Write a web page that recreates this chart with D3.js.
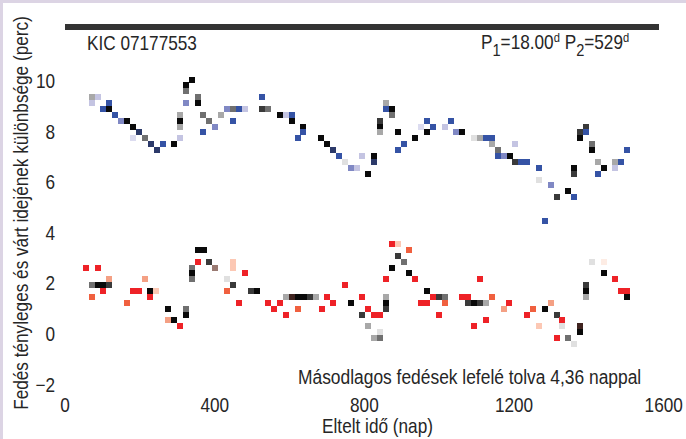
<!DOCTYPE html>
<html lang="hu">

<head>
    <meta charset="utf-8">
    <script src="https://d3js.org/d3.v7.min.js"></script>
    <style>
        body { margin: 0; background: #ffffff; }
        text { font-family: "Liberation Sans", Arial, sans-serif; fill: #262626; }
    </style>
</head>

<body>
    <div class="chart"></div>

    <script>
        // primary eclipses (upper band): time (days), O-C (minutes), tone group
        const primDay = [73, 89, 73, 119, 103, 119, 135, 151, 167, 183, 199, 183, 215, 231, 263, 247, 292, 308, 308, 308,
            308, 324, 324, 324, 340, 357, 357, 370, 386, 402, 370, 528, 434, 450, 466, 482, 418, 450, 528, 544,
            576, 592, 608, 608, 637, 637, 624, 685, 701, 717, 733, 750, 766, 782, 795, 811, 859, 859, 875, 875,
            843, 843, 843, 827, 827, 891, 907, 891, 937, 969, 985, 953, 969, 1033, 1017, 1046, 1062, 1094, 1110, 1126,
            1142, 1142, 1204, 1159, 1159, 1175, 1191, 1204, 1220, 1236, 1268, 1268, 1300, 1316, 1284, 1346, 1362, 1362, 1362, 1378,
            1394, 1394, 1378, 1410, 1410, 1426, 1442, 1426, 1471, 1487, 1471, 1503];
        const primEtv = [9.37, 9.37, 9.13, 9.13, 8.89, 8.89, 8.66, 8.42, 8.42, 8.18, 7.98, 7.75, 7.75, 7.51, 7.51, 7.27, 7.51, 7.75, 8.18, 8.42,
            8.66, 9.13, 9.60, 9.84, 10.04, 9.37, 9.13, 8.66, 8.42, 8.18, 7.98, 9.37, 8.89, 8.89, 8.89, 8.89, 8.66, 8.42, 8.89, 8.89,
            8.66, 8.66, 8.66, 8.42, 8.18, 7.98, 7.75, 7.75, 7.51, 7.27, 7.04, 6.80, 6.56, 6.56, 7.04, 6.32, 9.13, 8.89, 8.89, 8.66,
            8.42, 8.18, 7.98, 7.04, 6.80, 7.98, 7.51, 7.27, 7.75, 8.42, 8.18, 8.18, 7.98, 8.42, 8.18, 7.98, 7.98, 7.75, 7.75, 7.75,
            7.75, 7.51, 7.51, 7.27, 7.04, 7.04, 7.04, 6.80, 6.80, 6.80, 6.56, 6.09, 5.89, 5.42, 4.47, 5.65, 5.42, 6.56, 6.32, 7.98,
            8.18, 7.98, 7.75, 7.51, 7.27, 6.80, 6.56, 6.32, 6.80, 6.80, 6.56, 7.27];
        const primTone = ["l", "p", "p", "b", "b", "k", "b", "m", "k", "k", "n", "q", "g", "n", "b", "n", "k", "p", "l", "k",
            "l", "m", "g", "k", "k", "g", "k", "g", "g", "m", "b", "b", "m", "g", "b", "p", "l", "b", "d", "g",
            "k", "p", "b", "k", "k", "b", "b", "k", "k", "n", "b", "w", "m", "p", "p", "k", "l", "b", "k", "g",
            "d", "k", "l", "k", "n", "k", "b", "b", "k", "b", "b", "q", "k", "b", "p", "m", "k", "w", "l", "b",
            "b", "l", "p", "g", "b", "m", "k", "d", "b", "b", "b", "w", "m", "d", "b", "k", "b", "k", "d", "d",
            "d", "b", "k", "g", "k", "l", "k", "b", "l", "b", "p", "b"];

        // secondary eclipses (lower band, shifted down by 4.36 days)
        const secDay = [57, 89, 73, 89, 105, 119, 119, 73, 103, 167, 183, 199, 215, 228, 244, 228, 276, 276, 292, 308,
            324, 324, 340, 340, 340, 357, 373, 357, 386, 402, 450, 450, 434, 450, 434, 482, 498, 514, 466, 544,
            560, 576, 592, 592, 608, 624, 640, 656, 672, 624, 688, 701, 717, 750, 766, 795, 811, 795, 827, 843,
            811, 843, 827, 843, 859, 859, 859, 859, 875, 891, 920, 891, 907, 875, 920, 937, 969, 985, 1001, 1017,
            953, 969, 1017, 1001, 1062, 1078, 1078, 1094, 1110, 1126, 1110, 1142, 1094, 1126, 1188, 1175, 1252, 1236, 1268, 1284,
            1300, 1316, 1329, 1329, 1316, 1346, 1362, 1378, 1378, 1394, 1394, 1394, 1410, 1442, 1442, 1471, 1487, 1503, 1503];
        const secEtv = [2.61, 2.61, 1.94, 1.94, 1.94, 1.94, 2.17, 1.46, 1.70, 1.23, 1.70, 1.70, 2.17, 1.70, 1.70, 1.46, 0.99, 0.55, 0.55, 0.32,
            0.99, 0.75, 2.61, 2.41, 2.17, 3.32, 3.32, 2.85, 2.85, 2.61, 2.85, 2.61, 2.17, 1.94, 1.70, 2.41, 1.70, 1.70, 1.23, 1.23,
            0.99, 1.23, 0.75, 1.46, 1.46, 1.46, 1.46, 1.46, 1.46, 0.99, 0.99, 1.46, 1.23, 1.94, 1.23, 1.46, 0.99, 0.75, 0.75, 0.75,
            0.32, 0.08, -0.16, -0.16, 1.46, 1.23, 0.99, 2.17, 3.56, 3.56, 3.32, 3.08, 2.85, 2.61, 2.41, 2.17, 1.70, 1.46, 1.46, 1.46,
            1.23, 1.23, 1.23, 0.75, 1.46, 1.46, 1.23, 1.23, 1.23, 1.23, 2.17, 1.46, 0.32, 0.55, 1.23, 0.99, 0.99, 0.75, 0.32, 0.99,
            1.23, 0.75, 0.55, 0.32, -0.16, -0.16, -0.40, 0.32, 0.08, 1.94, 1.70, 1.46, 2.85, 2.85, 2.41, 2.17, 1.70, 1.70, 1.46];
        const secTone = ["r", "r", "g", "k", "k", "d", "s", "o", "r", "o", "r", "r", "s", "k", "e", "r", "k", "s", "k", "r",
            "g", "k", "g", "k", "g", "k", "k", "r", "d", "u", "e", "e", "w", "d", "o", "r", "d", "k", "r", "r",
            "r", "r", "r", "l", "t", "k", "k", "d", "l", "o", "r", "r", "r", "r", "k", "r", "r", "d", "r", "r",
            "l", "w", "l", "g", "l", "k", "d", "r", "r", "e", "o", "d", "g", "k", "k", "r", "k", "r", "d", "g",
            "r", "r", "o", "r", "r", "r", "d", "k", "d", "l", "r", "o", "r", "r", "r", "s", "o", "r", "e", "k",
            "s", "d", "r", "w", "r", "g", "w", "t", "k", "d", "k", "l", "w", "f", "k", "r", "r", "r", "k"];

        const xTicks = [0, 400, 800, 1200, 1600];
        const yTicks = [-2, 0, 2, 4, 6, 8, 10];

        const width = 686;
        const height = 439;

        const toneColor = d3.scaleOrdinal()
            .domain(["k", "d", "g", "l", "w", "b", "m", "p", "q", "n", "r", "o", "s", "e", "f", "t", "u"])
            .range(["#0a0a0a", "#3a3a3a", "#707070", "#a8a8a8", "#e0e0e0", "#3553a5", "#8088c4", "#c4c4e2",
                "#dcdcf0", "#2c3a6a", "#ee2227", "#f0603f", "#f4a084", "#fcc8b4", "#fdece4", "#402420", "#9a7a72"]);

        const svg = d3.select(".chart").append("svg")
            .attr("width", width)
            .attr("height", height);

        // light frame at top and left, white sheet
        svg.append("rect").attr("width", width).attr("height", height).attr("fill", "#dcd4e4");
        svg.append("rect").attr("x", 3).attr("y", 3).attr("width", width - 3).attr("height", height - 3)
            .attr("fill", "#ffffff");

        // scales
        const x = d3.scaleLinear().domain([0, 1600]).range([64.6, 663.2]);
        const y = d3.scaleLinear().domain([0, 10]).range([334, 81]);

        // thick bar at the top
        svg.append("rect")
            .attr("x", 65).attr("y", 24).attr("width", 594).attr("height", 6)
            .attr("fill", "#333333");

        const squeeze = "scale(0.86,1)";

        // y axis (labels only)
        const yAxis = svg.append("g")
            .attr("transform", "translate(55,0)")
            .call(d3.axisLeft(y).tickValues(yTicks).tickSize(0).tickPadding(0).tickFormat(d3.format("d")));
        yAxis.select(".domain").remove();
        yAxis.selectAll("text")
            .attr("font-size", 20).attr("fill", "#262626")
            .attr("font-family", "Liberation Sans, Arial, sans-serif")
            .attr("transform", squeeze);

        // x axis (labels only)
        const xAxis = svg.append("g")
            .attr("transform", "translate(0,398)")
            .call(d3.axisBottom(x).tickValues(xTicks).tickSize(0).tickPadding(0).tickFormat(d3.format("d")));
        xAxis.select(".domain").remove();
        xAxis.selectAll("text")
            .attr("font-size", 20).attr("fill", "#262626")
            .attr("font-family", "Liberation Sans, Arial, sans-serif")
            .attr("transform", squeeze);

        // data squares
        function drawSquares(days, vals, tones) {
            const pts = days.map((d, i) => ({ t: d, v: vals[i], c: tones[i] }));
            svg.append("g")
                .selectAll("rect")
                .data(pts)
                .join("rect")
                .attr("x", d => Math.round(x(d.t) - 3))
                .attr("y", d => Math.round(y(d.v) - 3))
                .attr("width", 6)
                .attr("height", 6)
                .attr("shape-rendering", "crispEdges")
                .attr("fill", d => toneColor(d.c));
        }
        drawSquares(primDay, primEtv, primTone);
        drawSquares(secDay, secEtv, secTone);

        // texts
        svg.append("text")
            .attr("transform", "translate(87,49.5) " + squeeze)
            .attr("font-size", 20)
            .text("KIC 07177553");

        const per = svg.append("text")
            .attr("transform", "translate(481,49) " + squeeze)
            .attr("font-size", 20);
        per.append("tspan").text("P");
        per.append("tspan").attr("font-size", 17).attr("dy", 7).text("1");
        per.append("tspan").attr("dy", -7).text("=18.00");
        per.append("tspan").attr("font-size", 13).attr("dy", -7).text("d");
        per.append("tspan").attr("dy", 7).text(" P");
        per.append("tspan").attr("font-size", 17).attr("dy", 7).text("2");
        per.append("tspan").attr("dy", -7).text("=529");
        per.append("tspan").attr("font-size", 13).attr("dy", -7).text("d");

        svg.append("text")
            .attr("transform", "translate(298,384) scale(0.87,1)")
            .attr("font-size", 20)
            .text("Másodlagos fedések lefelé tolva 4,36 nappal");

        svg.append("text")
            .attr("transform", "translate(377.5,433) " + squeeze)
            .attr("text-anchor", "middle")
            .attr("font-size", 20)
            .text("Eltelt idő (nap)");

        svg.append("text")
            .attr("transform", "translate(28.3,213) rotate(-90) " + squeeze)
            .attr("text-anchor", "middle")
            .attr("font-size", 20)
            .text("Fedés tényleges és várt idejének különbsége (perc)");
    </script>
</body>

</html>
